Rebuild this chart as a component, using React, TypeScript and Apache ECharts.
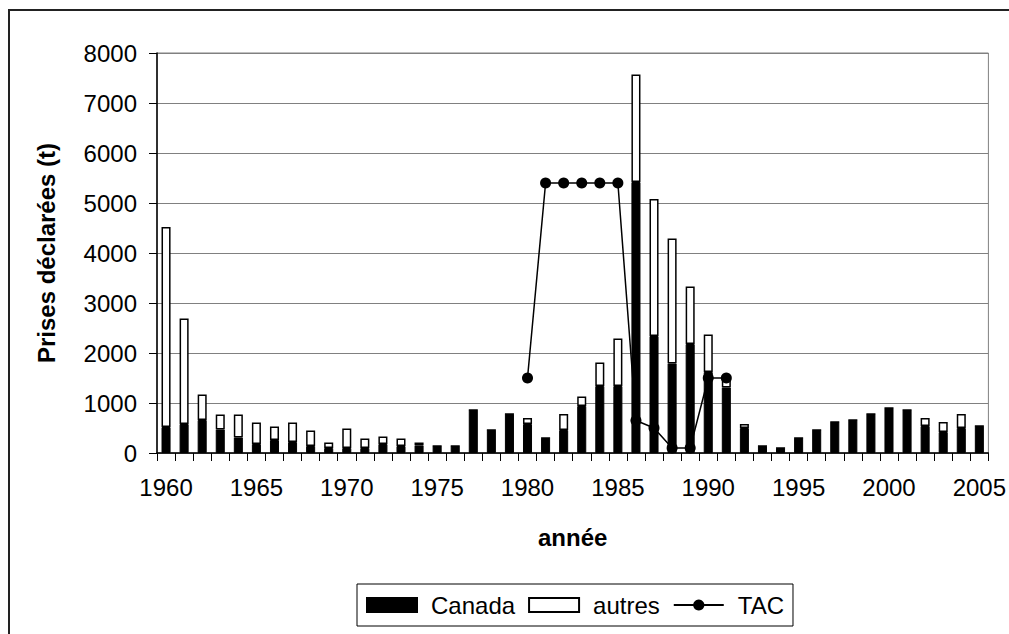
import React, { useEffect, useRef } from "react";
import * as echarts from "echarts";

const years = [
  "1960", "1961", "1962", "1963", "1964", "1965", "1966", "1967", "1968", "1969",
  "1970", "1971", "1972", "1973", "1974", "1975", "1976", "1977", "1978", "1979",
  "1980", "1981", "1982", "1983", "1984", "1985", "1986", "1987", "1988", "1989",
  "1990", "1991", "1992", "1993", "1994", "1995", "1996", "1997", "1998", "1999",
  "2000", "2001", "2002", "2003", "2004", "2005",
];

const canada = [
  520, 580, 660, 470, 310, 180, 260, 220, 140, 100,
  100, 100, 180, 140, 150, 140, 140, 860, 460, 780,
  580, 300, 460, 940, 1340, 1340, 5420, 2340, 1790, 2180,
  1620, 1310, 500, 140, 100, 300, 460, 620, 660, 780,
  900, 860, 540, 420, 500, 540,
];

const autres = [
  4000, 2110, 510, 300, 460, 430, 270, 390, 310, 110,
  390, 190, 150, 150, 60, 0, 0, 0, 0, 0,
  120, 0, 320, 190, 470, 950, 2150, 2740, 2500, 1150,
  750, 190, 80, 0, 0, 0, 0, 0, 0, 0,
  0, 0, 160, 200, 280, 0,
];

const tac = [
  null, null, null, null, null, null, null, null, null, null,
  null, null, null, null, null, null, null, null, null, null,
  1500, 5400, 5400, 5400, 5400, 5400, 650, 500, 100, 100,
  1500, 1500, null, null, null, null, null, null, null, null,
  null, null, null, null, null, null,
];

export default function App() {
  const ref = useRef<HTMLDivElement>(null);
  useEffect(() => {
    const chart = echarts.init(ref.current as HTMLDivElement, null, { renderer: "svg" });
    const font = "'Liberation Sans', Arial, sans-serif";
    chart.setOption({
      animation: false,
      backgroundColor: "#fff",
      textStyle: { fontFamily: font, color: "#000" },
      graphic: [
        {
          type: "rect",
          shape: { x: 9, y: 10, width: 1100, height: 700 },
          style: { fill: "none", stroke: "#222", lineWidth: 2 },
          silent: true,
          z: 100,
        },
      ],
      grid: {
        left: 157,
        right: 16,
        top: 53,
        bottom: 181,
        show: true,
        borderColor: "#808080",
        borderWidth: 1,
        containLabel: false,
      },
      legend: {
        left: 357,
        top: 584,
        orient: "horizontal",
        padding: [9, 9],
        itemWidth: 50,
        itemHeight: 14,
        itemGap: 13,
        borderColor: "#000",
        borderWidth: 1,
        textStyle: { fontSize: 24, color: "#000", fontFamily: font, padding: [0, 0, 0, 9] },
        data: [
          { name: "Canada", icon: "rect" },
          { name: "autres", icon: "rect" },
          { name: "TAC" },
        ],
      },
      xAxis: {
        type: "category",
        data: years,
        boundaryGap: true,
        axisLine: { show: true, lineStyle: { color: "#000", width: 1.5 } },
        axisTick: { show: true, interval: 0, length: 8, lineStyle: { color: "#000", width: 1 } },
        axisLabel: { interval: 4, fontSize: 24, color: "#000", margin: 22, fontFamily: font },
        name: "année",
        nameLocation: "middle",
        nameGap: 72,
        nameTextStyle: { fontSize: 24, fontWeight: "bold", color: "#000", fontFamily: font },
      },
      yAxis: {
        type: "value",
        min: 0,
        max: 8000,
        interval: 1000,
        axisLine: { show: true, lineStyle: { color: "#000", width: 1.5 } },
        axisTick: { show: true, length: 8, lineStyle: { color: "#000", width: 1 } },
        axisLabel: {
          fontSize: 24,
          color: "#000",
          margin: 20,
          fontFamily: font,
          formatter: (v: number) => String(v),
        },
        splitLine: { show: true, lineStyle: { color: "#808080", width: 1 } },
        name: "Prises déclarées (t)",
        nameLocation: "middle",
        nameGap: 99,
        nameTextStyle: { fontSize: 24, fontWeight: "bold", color: "#000", fontFamily: font },
      },
      series: [
        {
          name: "Canada",
          type: "bar",
          stack: "total",
          barWidth: "50%",
          data: canada,
          itemStyle: { color: "#000", borderColor: "#000", borderWidth: 1 },
        },
        {
          name: "autres",
          type: "bar",
          stack: "total",
          barWidth: "50%",
          data: autres,
          itemStyle: { color: "#fff", borderColor: "#000", borderWidth: 1.5 },
        },
        {
          name: "TAC",
          type: "line",
          data: tac,
          connectNulls: false,
          symbol: "circle",
          symbolSize: 11,
          z: 10,
          lineStyle: { color: "#000", width: 1.5 },
          itemStyle: { color: "#000" },
        },
      ],
    });
    return () => chart.dispose();
  }, []);
  return (
    <div
      ref={ref}
      style={{ position: "fixed", left: 0, top: 0, width: 1009, height: 634 }}
    />
  );
}
